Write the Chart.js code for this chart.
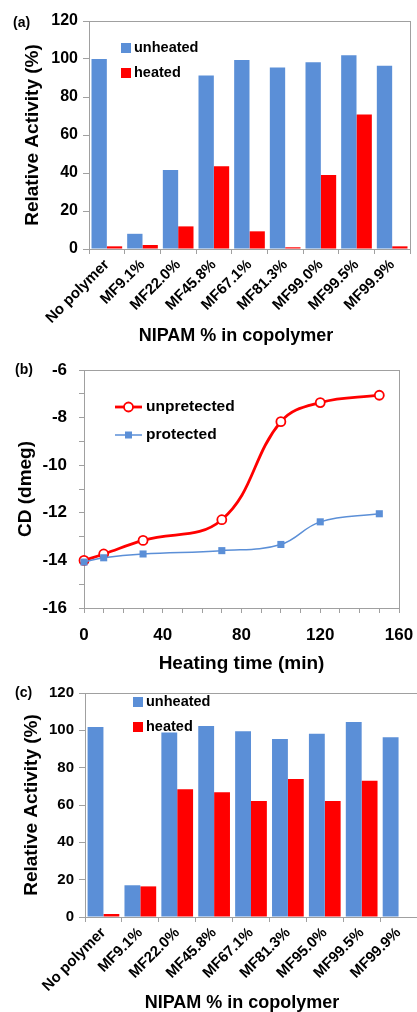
<!DOCTYPE html>
<html>
<head>
<meta charset="utf-8">
<script src="https://cdn.jsdelivr.net/npm/chart.js@4"></script>
<style>
  html, body { margin: 0; padding: 0; background: #fff; }
  body { width: 417px; height: 1012px; position: relative; overflow: hidden; }
  canvas { position: absolute; left: 0; }
</style>
</head>
<body>
<canvas id="chartA" width="417" height="345" style="top:0"></canvas>
<canvas id="chartB" width="417" height="330" style="top:345px"></canvas>
<canvas id="chartC" width="417" height="337" style="top:675px"></canvas>
<script>
// (a) activity after heating, copolymer series 1
const polymersA = ['No polymer', 'MF9.1%', 'MF22.0%', 'MF45.8%', 'MF67.1%', 'MF81.3%', 'MF99.0%', 'MF99.5%', 'MF99.9%']
const unheatedA = [100, 8, 41.6, 91.3, 99.5, 95.5, 98.3, 102, 96.4]
const heatedA = [1.4, 2.1, 11.9, 43.5, 9.3, 0.9, 39, 70.8, 1.4]

// (b) CD signal vs heating time
const timesB = [0, 10, 30, 70, 100, 120, 150]
const unprotectedB = [-14.0, -13.73, -13.16, -12.29, -8.17, -7.37, -7.06]
const protectedB = [-14.07, -13.89, -13.73, -13.59, -13.33, -12.38, -12.04]

// (c) activity after heating, copolymer series 2
const polymersC = ['No polymer', 'MF9.1%', 'MF22.0%', 'MF45.8%', 'MF67.1%', 'MF81.3%', 'MF95.0%', 'MF99.5%', 'MF99.9%']
const unheatedC = [101.8, 17, 98.9, 102.3, 99.5, 95.4, 98.2, 104.5, 96.3]
const heatedC = [1.6, 16.4, 68.4, 66.8, 62.1, 73.9, 62.1, 73, 0]

const BLUE = '#5b8fd7'
const RED = '#ff0000'
const GRAY = '#a0a0a0'
const FAMILY = "'Liberation Sans', Arial, sans-serif"

Chart.defaults.font.family = FAMILY
Chart.defaults.color = '#000'

// box round the plot area, the panel letter and (optionally) an x title
const frame = {
  id: 'frame',
  beforeDatasetsDraw(chart, args, opts) {
    const { ctx, chartArea: a } = chart
    ctx.save()
    ctx.strokeStyle = GRAY
    ctx.lineWidth = 1
    ctx.strokeRect(Math.round(a.left) + 0.5, Math.round(a.top) + 0.5, Math.round(a.right - a.left), Math.round(a.bottom - a.top))
    ctx.restore()
  },
  afterDraw(chart, args, opts) {
    const { ctx } = chart
    ctx.save()
    ctx.fillStyle = '#000'
    ctx.font = 'bold 14px ' + FAMILY
    ctx.textBaseline = 'middle'
    ctx.fillText(opts.label, opts.x, opts.y)
    if (opts.title) {
      ctx.font = 'bold 18px ' + FAMILY
      ctx.textAlign = 'center'
      ctx.fillText(opts.title, opts.titleX, opts.titleY)
    }
    ctx.restore()
  }
}

// legend drawn inside the plot, like the spreadsheet one
const insideLegend = {
  id: 'insideLegend',
  afterDraw(chart, args, opts) {
    const { ctx } = chart
    ctx.save()
    ctx.font = 'bold ' + opts.size + 'px ' + FAMILY
    ctx.textBaseline = 'middle'
    chart.data.datasets.forEach((ds, i) => {
      const y = opts.y + i * opts.gap
      const x = opts.x
      if (chart.config.type === 'bar') {
        ctx.fillStyle = ds.backgroundColor
        ctx.fillRect(x, y - 5, 10, 10)
        ctx.fillStyle = '#000'
        ctx.fillText(ds.label, x + 13, y)
      } else {
        ctx.strokeStyle = ds.borderColor
        ctx.lineWidth = ds.borderWidth
        ctx.beginPath()
        ctx.moveTo(x, y)
        ctx.lineTo(x + 27, y)
        ctx.stroke()
        const cx = x + 13.5
        if (ds.pointStyle === 'rect') {
          ctx.fillStyle = ds.pointBackgroundColor
          ctx.fillRect(cx - 3.5, y - 3.5, 7, 7)
        } else {
          ctx.fillStyle = '#fff'
          ctx.lineWidth = ds.pointBorderWidth
          ctx.beginPath()
          ctx.arc(cx, y, ds.pointRadius, 0, Math.PI * 2)
          ctx.fill()
          ctx.stroke()
        }
        ctx.fillStyle = '#000'
        ctx.fillText(ds.label, x + 31, y)
      }
    })
    ctx.restore()
  }
}

// fixed axis box sizes so the plot area lands where the figure has it
const fixX = (h) => (s) => { s.height = h; s.paddingLeft = 0; s.paddingRight = 0 }
const fixY = (w) => (s) => { s.width = w; s.paddingTop = 0; s.paddingBottom = 0 }

function barChart(id, labels, unheated, heated, lay) {
  return new Chart(document.getElementById(id), {
    type: 'bar',
    data: {
      labels: labels,
      datasets: [
        { label: 'unheated', data: unheated, backgroundColor: BLUE },
        { label: 'heated', data: heated, backgroundColor: RED }
      ]
    },
    plugins: [frame, insideLegend],
    options: {
      responsive: false,
      animation: false,
      devicePixelRatio: 1,
      layout: { padding: { left: 0, right: lay.right, top: lay.top, bottom: 0 } },
      datasets: { bar: { barPercentage: 1, categoryPercentage: 0.86 } },
      plugins: {
        legend: { display: false },
        tooltip: { enabled: false },
        frame: {
          label: lay.letter, x: lay.letterX, y: lay.letterY,
          title: 'NIPAM % in copolymer', titleX: lay.titleX, titleY: lay.titleY
        },
        insideLegend: { x: lay.legX, y: lay.legY, gap: lay.legGap, size: 14.5 }
      },
      scales: {
        x: {
          afterFit: fixX(lay.xHeight),
          grid: { drawOnChartArea: false, tickLength: 5, color: GRAY },
          border: { color: GRAY },
          ticks: { font: { size: 15, weight: 'bold' }, minRotation: 45, maxRotation: 45, padding: 2 }
        },
        y: {
          min: 0,
          max: 120,
          afterFit: fixY(lay.yWidth),
          grid: { drawOnChartArea: false, tickLength: 6, color: GRAY },
          border: { color: GRAY },
          ticks: { stepSize: 20, font: { size: lay.ySize, weight: 'bold' }, padding: 5 },
          title: { display: true, text: 'Relative Activity (%)', font: { size: 19, weight: 'bold' }, padding: { top: lay.yTitlePad, bottom: 0 } }
        }
      }
    }
  })
}

barChart('chartA', polymersA, unheatedA, heatedA, {
  top: 21, right: 7, xHeight: 96, yWidth: 89, ySize: 16, yTitlePad: 21,
  letter: '(a)', letterX: 13, letterY: 23, titleX: 236, titleY: 336,
  legX: 121, legY: 48, legGap: 25
})

barChart('chartC', polymersC, unheatedC, heatedC, {
  top: 18, right: 0, xHeight: 95, yWidth: 85, ySize: 15, yTitlePad: 20,
  letter: '(c)', letterX: 15, letterY: 18, titleX: 242, titleY: 328,
  legX: 133, legY: 27, legGap: 25
})

new Chart(document.getElementById('chartB'), {
  type: 'line',
  data: {
    datasets: [
      {
        label: 'unpretected',
        data: timesB.map((t, i) => ({ x: t, y: unprotectedB[i] })),
        borderColor: RED,
        borderWidth: 2.8,
        pointRadius: 4.5,
        pointBorderWidth: 1.8,
        pointBackgroundColor: '#fff',
        pointBorderColor: RED,
        tension: 0.4,
        clip: false,
        order: 1
      },
      {
        label: 'protected',
        data: timesB.map((t, i) => ({ x: t, y: protectedB[i] })),
        borderColor: BLUE,
        borderWidth: 1.5,
        pointStyle: 'rect',
        pointRadius: 5,
        pointBorderWidth: 0,
        pointBackgroundColor: BLUE,
        pointBorderColor: BLUE,
        tension: 0.4,
        clip: false,
        order: 0
      }
    ]
  },
  plugins: [frame, insideLegend],
  options: {
    responsive: false,
    animation: false,
    devicePixelRatio: 1,
    layout: { padding: { left: 0, right: 18, top: 25, bottom: 0 } },
    plugins: {
      legend: { display: false },
      tooltip: { enabled: false },
      frame: { label: '(b)', x: 15, y: 25 },
      insideLegend: { x: 115, y: 62, gap: 28, size: 15.5 }
    },
    scales: {
      x: {
        type: 'linear',
        min: 0,
        max: 160,
        afterFit: fixX(67),
        grid: { drawOnChartArea: false, tickLength: 5, color: GRAY },
        border: { color: GRAY },
        ticks: {
          stepSize: 10,
          autoSkip: false,
          maxRotation: 0,
          font: { size: 17, weight: 'bold' },
          padding: 12,
          callback: (v) => (v % 40 === 0 ? v : '')
        },
        title: { display: true, text: 'Heating time (min)', font: { size: 19, weight: 'bold' }, padding: { top: 0, bottom: 0 } }
      },
      y: {
        min: -16,
        max: -6,
        afterFit: fixY(84),
        grid: { drawOnChartArea: false, tickLength: 5, color: GRAY },
        border: { color: GRAY },
        ticks: {
          stepSize: 1,
          autoSkip: false,
          font: { size: 17, weight: 'bold' },
          padding: 12,
          callback: (v) => (v % 2 === 0 ? v : '')
        },
        title: { display: true, text: 'CD (dmeg)', font: { size: 19, weight: 'bold' }, padding: { top: 14, bottom: 0 } }
      }
    }
  }
})
</script>
</body>
</html>
